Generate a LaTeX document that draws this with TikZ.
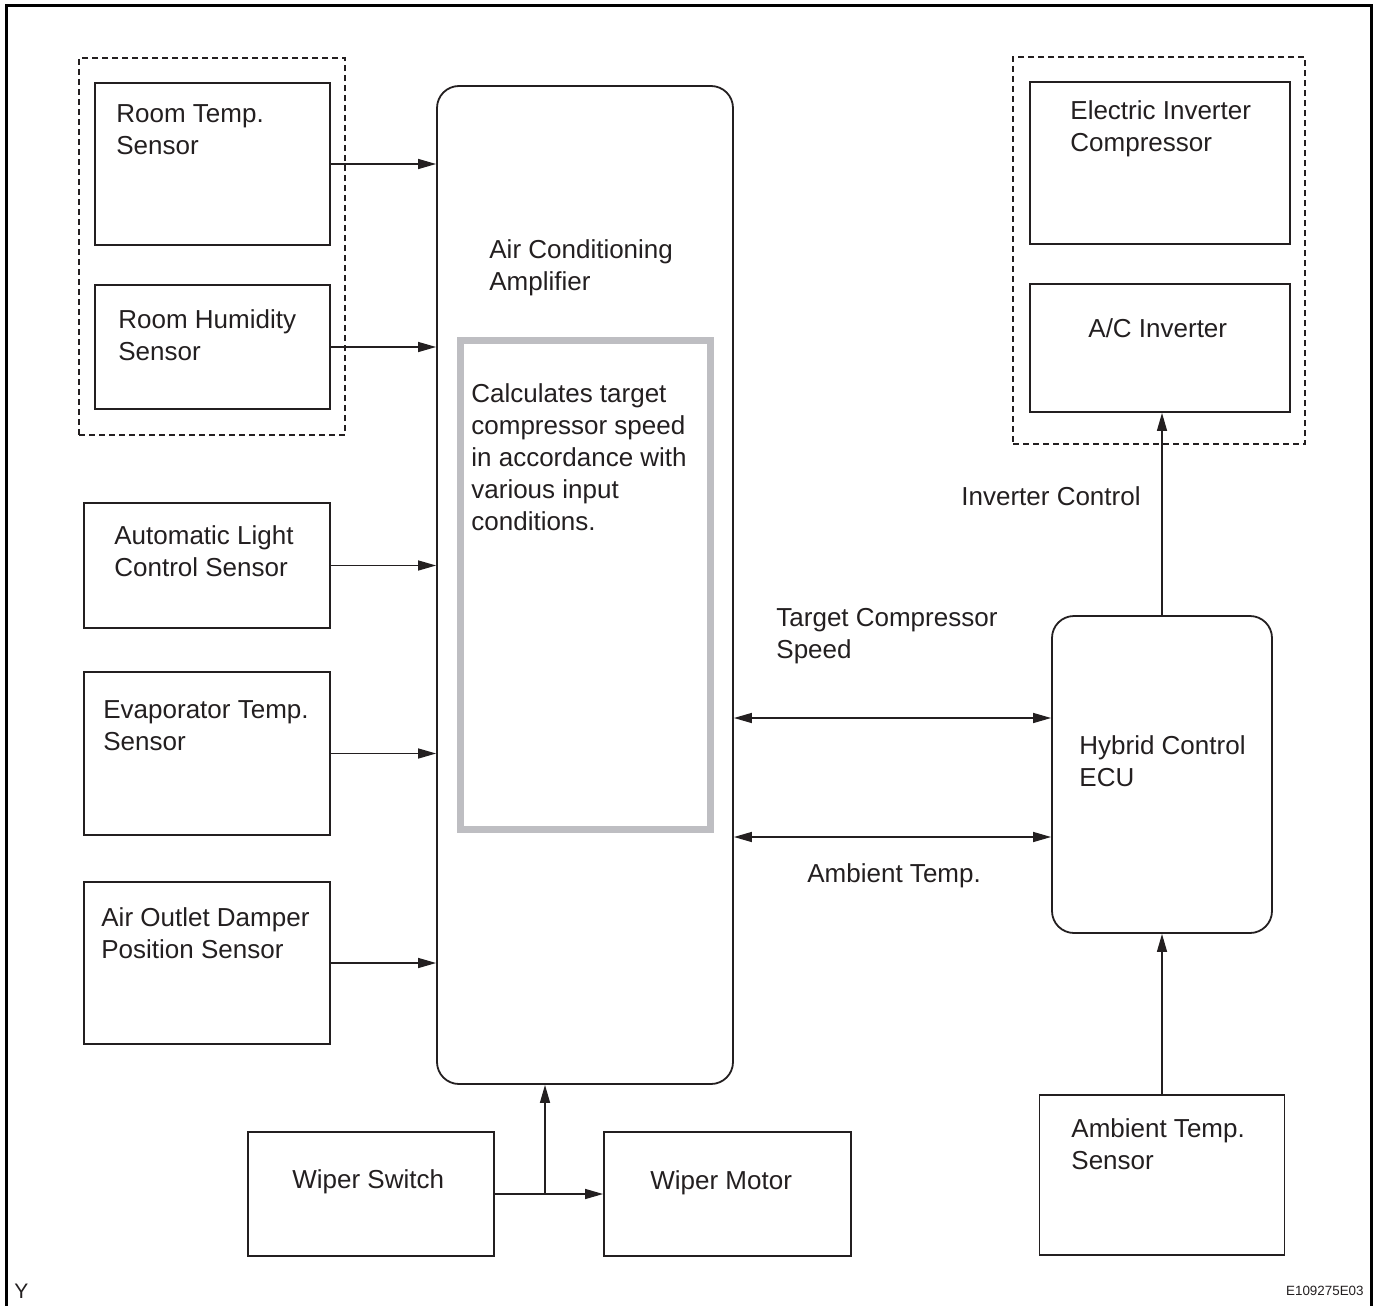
\documentclass[tikz,border=0pt]{standalone}
\usepackage{fontspec}
\setmainfont{Liberation Sans}
\usetikzlibrary{arrows.meta}
\definecolor{inkgray}{RGB}{35,31,32}
\definecolor{calcgray}{RGB}{190,190,194}
\newcommand{\lblfont}{\fontsize{13}{16}\selectfont}

\begin{document}
\begin{tikzpicture}[
    x=0.5pt, y=-0.5pt,
    box/.style={rectangle, draw=inkgray, line width=0.9pt, inner sep=0pt},
    ecubox/.style={box, rounded corners=11pt},
    group/.style={rectangle, draw=inkgray, line width=0.7pt, dash pattern=on 3pt off 2pt, inner sep=0pt},
    lbl/.style={anchor=base west, align=left, inner sep=0pt, text=inkgray, font=\lblfont},
    arrow/.style={-{Triangle[length=9pt, width=5pt]}, draw=inkgray, line width=0.7pt},
    biarrow/.style={{Triangle[length=9pt, width=5pt]}-{Triangle[length=9pt, width=5pt]}, draw=inkgray, line width=0.7pt},
    >=latex
]
\useasboundingbox (0,0) rectangle (1377,1306);

% Frame
\draw[line width=1.5pt] (6,1306) -- (6,5) -- (1371,5) -- (1371,1306);

% Left side: sensors
\node[group] (roomgrp) at (212,246.5) [minimum width=133pt, minimum height=188.5pt] {};
\node[box] (rts) at (212.5,164) [minimum width=117.5pt, minimum height=81pt] {};
\node[box] (rhs) at (212.5,347) [minimum width=117.5pt, minimum height=62pt] {};
\node[box] (alc) at (207,565.5) [minimum width=123pt, minimum height=62.5pt] {};
\node[box] (evs) at (207,753.5) [minimum width=123pt, minimum height=81.5pt] {};
\node[box] (ods) at (207,963) [minimum width=123pt, minimum height=81pt] {};

% (base of a two-line label = baseline of its last line)
\node[lbl] (rtslbl) at (116,154) {Room Temp.\\Sensor};
\node[lbl] (rhslbl) at (118,360) {Room Humidity\\Sensor};
\node[lbl] (alclbl) at (114,576) {Automatic Light\\Control Sensor};
\node[lbl] (evslbl) at (103,750) {Evaporator Temp.\\Sensor};
\node[lbl] (odslbl) at (101,958) {Air Outlet Damper\\Position Sensor};

% Amplifier
\node[ecubox] (amp) at (585,585) [minimum width=148pt, minimum height=499pt] {};
\node[rectangle, draw=calcgray, line width=3.5pt, inner sep=0pt,
      minimum width=125pt, minimum height=244.5pt] (calc) at (585,584.5) {};
\node[lbl] (amplbl) at (489,290) {Air Conditioning\\Amplifier};
\node[lbl] (calclbl) at (471,530) {Calculates target\\compressor speed\\in accordance with\\various input\\conditions.};

% Wipers
\node[box] (wsw) at (371,1194) [minimum width=123pt, minimum height=62pt] {};
\node[box] (wmo) at (727.5,1194) [minimum width=123.5pt, minimum height=62pt] {};
\node[lbl] (wswlbl) at (292,1188) {Wiper Switch};
\node[lbl] (wmolbl) at (650,1189) {Wiper Motor};
\coordinate (split) at (545,1194);

% Right side: compressor, ECU, ambient sensor
\node[group] (compgrp) at (1159,250.5) [minimum width=146pt, minimum height=193.5pt] {};
\node[box] (eic) at (1160,163) [minimum width=130pt, minimum height=81pt] {};
\node[box] (inv) at (1160,348) [minimum width=130pt, minimum height=64pt] {};
\node[ecubox] (ecu) at (1162,774.5) [minimum width=110pt, minimum height=158.5pt] {};
\node[box] (ats) at (1162,1175) [minimum width=122.5pt, minimum height=80pt] {};

\node[lbl] (eiclbl) at (1070,151) {Electric Inverter\\Compressor};
\node[lbl] (invlbl) at (1088,337) {A/C Inverter};
\node[lbl] (ecullbl) at (1079,786) {Hybrid Control\\ECU};
\node[lbl] (atslbl) at (1071,1169) {Ambient Temp.\\Sensor};

% Signal labels
\node[lbl] (invctl) at (961,505) {Inverter Control};
\node[lbl] (tgtspd) at (776,658) {Target Compressor\\Speed};
\node[lbl] (ambtmp) at (807,882) {Ambient Temp.};

% Connections
\draw[arrow] (rts.east) -- (rts.east -| amp.west);
\draw[arrow] (rhs.east) -- (rhs.east -| amp.west);
\draw[arrow] (alc.east) -- (alc.east -| amp.west);
\draw[arrow] (evs.east) -- (evs.east -| amp.west);
\draw[arrow] (ods.east) -- (ods.east -| amp.west);

\draw[arrow] (wsw.east) -- (wmo.west);
\draw[arrow] (split) -- (split |- amp.south);

\draw[biarrow] (amp.east |- 0,718) -- (ecu.west |- 0,718);
\draw[biarrow] (amp.east |- 0,837) -- (ecu.west |- 0,837);

\draw[arrow] (ecu.north) -- (ecu.north |- inv.south);
\draw[arrow] (ats.north) -- (ats.north |- ecu.south);

% Corner marks
\node[anchor=base west, inner sep=0pt, text=inkgray, font=\fontsize{10.5}{12}\selectfont] (ymark) at (14,1298) {Y};
\node[anchor=base east, inner sep=0pt, text=inkgray, font=\fontsize{6.7}{8}\selectfont] (figid) at (1364,1295) {E109275E03};

\end{tikzpicture}
\end{document}
